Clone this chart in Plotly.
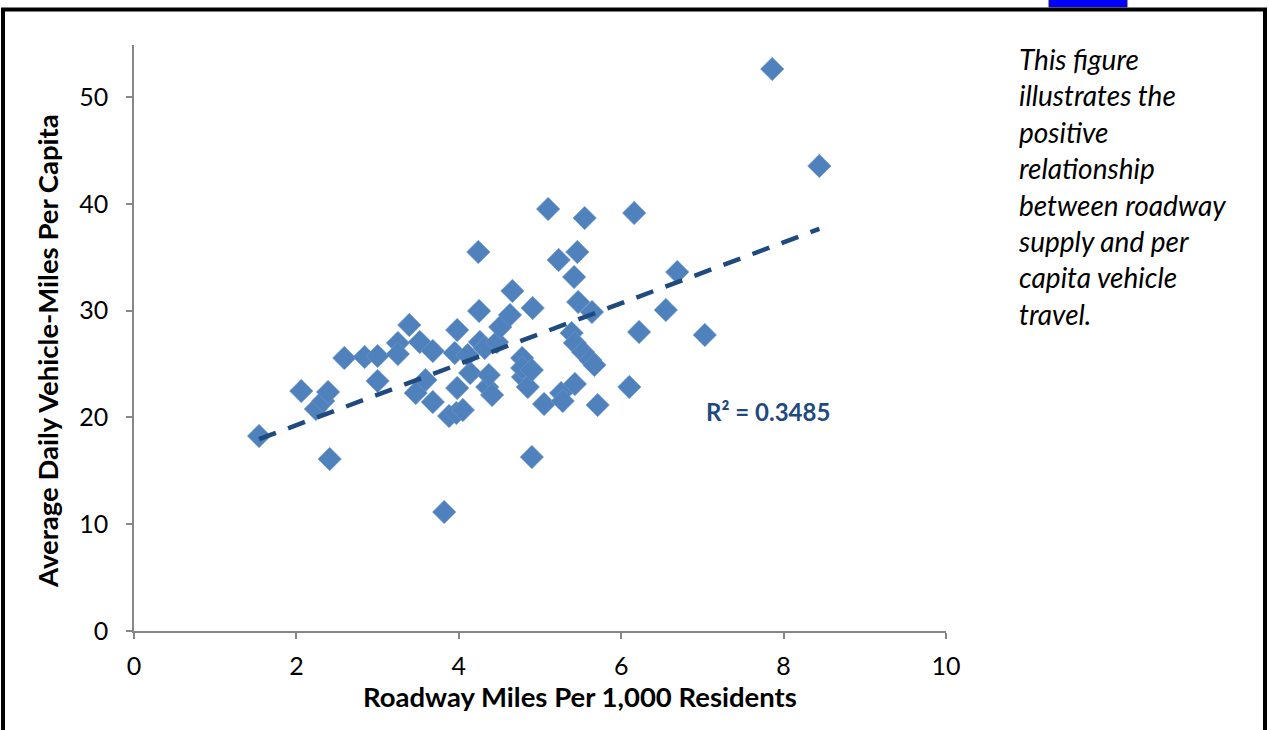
import numpy as np
import plotly.graph_objects as go

roadway_miles = [1.54, 2.06, 2.24, 2.33, 2.39, 2.41, 2.59, 2.84, 3.00, 3.00,
                 3.25, 3.25, 3.39, 3.47, 3.52, 3.59, 3.68, 3.68, 3.82, 3.88,
                 3.97, 3.98, 3.95, 3.98, 4.05, 4.14, 4.11, 4.24, 4.25, 4.26,
                 4.32, 4.35, 4.37, 4.41, 4.47, 4.51, 4.63, 4.66, 4.91, 4.78,
                 4.79, 4.78, 4.85, 4.90, 4.90, 5.05, 5.10, 5.23, 5.26, 5.28,
                 5.42, 5.39, 5.46, 5.43, 5.43, 5.47, 5.53, 5.55, 5.62, 5.64,
                 5.67, 5.71, 6.10, 6.16, 6.22, 6.55, 6.69, 7.03, 7.86, 8.44]
vmt_per_capita = [18.26, 22.47, 20.79, 21.54, 22.38, 16.10, 25.56, 25.66, 25.75, 23.41,
                  26.97, 25.94, 28.65, 22.29, 27.06, 23.50, 21.44, 26.22, 11.14, 20.13,
                  20.41, 22.75, 26.03, 28.18, 20.69, 24.16, 25.84, 35.49, 29.96, 27.06,
                  26.50, 22.85, 23.97, 22.10, 27.06, 28.46, 29.59, 31.84, 30.24, 25.56,
                  23.78, 24.63, 22.85, 24.44, 16.29, 21.25, 39.51, 34.74, 22.28, 21.54,
                  33.15, 27.90, 35.49, 26.97, 23.13, 30.81, 26.12, 38.67, 25.37, 29.87,
                  24.91, 21.16, 22.85, 39.14, 28.00, 30.06, 33.61, 27.72, 52.62, 43.54]
x_ticks = [0, 2, 4, 6, 8, 10]
y_ticks = [0, 10, 20, 30, 40, 50]
x_title = "Roadway Miles Per 1,000 Residents"
y_title = "Average Daily Vehicle-Miles Per Capita"
r_squared_label = "R² = 0.3485"
note_text = ("This figure<br>illustrates the<br>positive<br>relationship<br>"
             "between roadway<br>supply and per<br>capita vehicle<br>travel.")

x = np.array(roadway_miles)
y = np.array(vmt_per_capita)
slope, intercept = np.polyfit(x, y, 1)
tx = np.array([x.min(), x.max()])
ty = slope * tx + intercept

FONT = "Lato"
W, H = 1269, 730
L, R, T, B = 134, 323, 45, 99
pw, ph = W - L - R, H - T - B

def px(xp):
    return (xp - L) / pw

def py(yp):
    return (H - B - yp) / ph

fig = go.Figure()
fig.add_trace(go.Scatter(
    x=roadway_miles, y=vmt_per_capita, mode="markers",
    marker=dict(symbol="diamond", size=18, color="#4F81BD",
                line=dict(width=0.6, color="#6E98CC")),
    showlegend=False, hoverinfo="x+y"))
fig.add_trace(go.Scatter(
    x=tx, y=ty, mode="lines",
    line=dict(color="#1F4A7E", width=4.5, dash="18px,13px"),
    showlegend=False, hoverinfo="skip"))

axis_common = dict(showgrid=False, zeroline=False, showline=True,
                   linecolor="#878787", linewidth=1.5, ticks="outside",
                   tickcolor="#878787", ticklen=6, tickwidth=1.5,
                   tickfont=dict(family=FONT, size=25, color="#000000"))
fig.update_xaxes(range=[0, 10], tickvals=x_ticks, ticklabelstandoff=6,
                 **axis_common)
fig.update_yaxes(range=[0, 54.87], tickvals=y_ticks, ticklabelstandoff=13,
                 **axis_common)

# axis titles (placed as in the original, slightly off-centre)
fig.add_annotation(x=px(580), y=py(697), xref="paper", yref="paper",
                   text="<b>" + x_title + "</b>", showarrow=False,
                   xanchor="center", yanchor="middle",
                   font=dict(family=FONT, size=27.5, color="#000"))
fig.add_annotation(x=px(47), y=py(351), xref="paper", yref="paper",
                   text="<b>" + y_title + "</b>", showarrow=False, textangle=-90,
                   xanchor="center", yanchor="middle",
                   font=dict(family=FONT, size=27.5, color="#000"))

fig.add_annotation(x=(768 - L) / 81.2, y=(631 - 411) / 10.68, xref="x", yref="y",
                   text="<b>" + r_squared_label + "</b>", showarrow=False,
                   font=dict(family=FONT, size=24, color="#1F4A7E"))
fig.add_annotation(x=px(1016), y=py(40), xref="paper", yref="paper",
                   xanchor="left", yanchor="top", align="left",
                   text="<i>" + note_text + "</i>", showarrow=False,
                   font=dict(family=FONT, size=28, color="#000"))
# outer frame
fig.add_shape(type="rect", xref="paper", yref="paper",
              x0=px(3), x1=px(1265), y0=py(760), y1=py(9.5),
              line=dict(color="#000000", width=4), fillcolor="rgba(0,0,0,0)")
# fragment of the cut-off link highlight above the frame
fig.add_shape(type="rect", xref="paper", yref="paper",
              x0=px(1049), x1=px(1127), y0=py(7), y1=py(-3),
              line=dict(color="#1a1a80", width=1), fillcolor="#0000FF")

fig.update_layout(width=W, height=H, margin=dict(l=L, r=R, t=T, b=B),
                  paper_bgcolor="white", plot_bgcolor="white",
                  font=dict(family=FONT))
fig.write_html("out.html", config={"displayModeBar": False},
               post_script="document.body.style.margin='0px';")
